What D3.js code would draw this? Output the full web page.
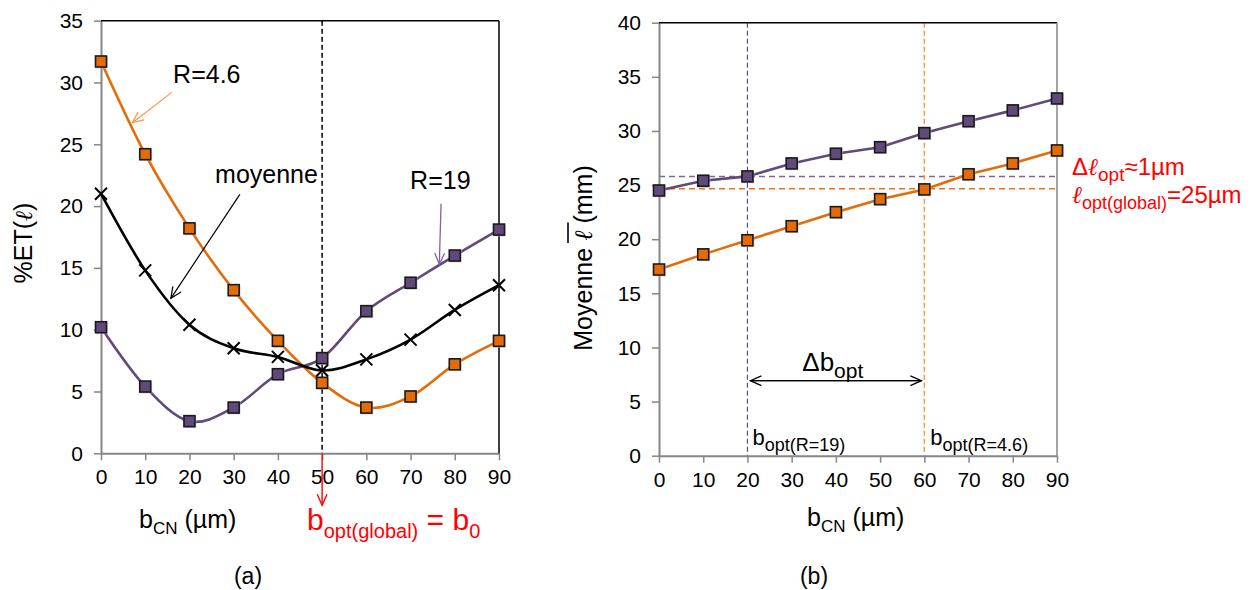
<!DOCTYPE html>
<html><head><meta charset="utf-8">
<script src="https://cdn.jsdelivr.net/npm/d3@7"></script>
<style>
body{margin:0;background:#fff}
text{font-family:"Liberation Sans",Arial,sans-serif}
</style>
</head><body>
<svg id="c" width="1254" height="590"></svg>
<script>
// ---------- data ----------
const bCN = [0, 10, 20, 30, 40, 50, 60, 70, 80, 90];
const etR46 = [31.7, 24.2, 18.2, 13.2, 9.1, 5.7, 3.7, 4.6, 7.2, 9.1];
const etR19 = [10.2, 5.4, 2.6, 3.7, 6.4, 7.7, 11.5, 13.8, 16.0, 18.1];
const etMoy = [21.0, 14.8, 10.4, 8.5, 7.8, 6.7, 7.6, 9.2, 11.6, 13.6];
const lenR46 = [17.2, 18.6, 19.9, 21.2, 22.5, 23.7, 24.6, 26.0, 27.0, 28.2];
const lenR19 = [24.5, 25.4, 25.8, 27.0, 27.9, 28.5, 29.8, 30.9, 31.9, 33.0];
const xTicks = [0, 10, 20, 30, 40, 50, 60, 70, 80, 90];
const yTicksA = [0, 5, 10, 15, 20, 25, 30, 35];
const yTicksB = [0, 5, 10, 15, 20, 25, 30, 35, 40];
const bOptGlobal = 50;
const bOptR19 = 20, bOptR46 = 60;
const lOptR19 = 25.8, lOptR46 = 24.65;

// ---------- style ----------
const ORANGE = "#E36C09", PURPLE = "#604A7B";
const ORANGE_L = "#F79646", PURPLE_L = "#8064A2";
const AXIS = "#868686", RED = "#FF0000";
const ELL = "font-family:'DejaVu Serif',serif;font-style:italic";
const svg = d3.select("#c");

function rich(sel, x, y, parts, fill, anchor) {
  const t = sel.append("text").attr("x", x).attr("y", y).attr("fill", fill || "#000")
    .attr("text-anchor", anchor || "start");
  let cur = 0;
  parts.forEach(p => {
    const off = p.sub || 0;
    const ts = t.append("tspan").attr("dy", off - cur).attr("font-size", p.size).text(p.t);
    if (p.style) ts.attr("style", p.style);
    cur = off;
  });
  return t;
}
function arrow(sel, x1, y1, x2, y2, color, w, head) {
  head = head || 12;
  sel.append("line").attr("x1", x1).attr("y1", y1).attr("x2", x2).attr("y2", y2)
    .attr("stroke", color).attr("stroke-width", w);
  const a = Math.atan2(y2 - y1, x2 - x1), s = 0.42;
  const p = [[x2 - head * Math.cos(a - s), y2 - head * Math.sin(a - s)], [x2, y2],
             [x2 - head * Math.cos(a + s), y2 - head * Math.sin(a + s)]];
  sel.append("path").attr("d", d3.line()(p)).attr("fill", "none")
    .attr("stroke", color).attr("stroke-width", w);
}
function squares(g, xs, ys, sx, sy, fill) {
  const d = xs.map((v, i) => [v, ys[i]]);
  g.selectAll(null).data(d).join("rect")
    .attr("x", p => sx(p[0]) - 5).attr("y", p => sy(p[1]) - 5)
    .attr("width", 12).attr("height", 12).attr("fill", "#bfbfbf").attr("opacity", 0.6);
  g.selectAll(null).data(d).join("rect")
    .attr("x", p => sx(p[0]) - 5.5).attr("y", p => sy(p[1]) - 5.5)
    .attr("width", 11).attr("height", 11).attr("fill", fill)
    .attr("stroke", "#1a1a1a").attr("stroke-width", 1.6);
}
function crosses(g, xs, ys, sx, sy) {
  g.selectAll(null).data(xs.map((d, i) => [d, ys[i]])).join("path")
    .attr("d", d => { const x = sx(d[0]), y = sy(d[1]), r = 6;
      return `M${x-r},${y-r}L${x+r},${y+r}M${x-r},${y+r}L${x+r},${y-r}`; })
    .attr("stroke", "#000").attr("stroke-width", 2).attr("fill", "none");
}
function axes(g, sx, sy, yt, W, H, rightColor) {
  const ax = g.append("g").attr("transform", `translate(0,${H})`)
    .call(d3.axisBottom(sx).tickValues(xTicks).tickSize(7).tickSizeOuter(0).tickPadding(9));
  const ay = g.append("g")
    .call(d3.axisLeft(sy).tickValues(yt).tickSize(7).tickSizeOuter(0).tickPadding(11));
  [ax, ay].forEach(a => {
    a.select(".domain").attr("stroke", AXIS).attr("stroke-width", 2);
    a.selectAll(".tick line").attr("stroke", AXIS).attr("stroke-width", 1.5);
    a.selectAll(".tick text").attr("font-size", 21).attr("fill", "#000")
      .attr("font-family", "Liberation Sans, Arial, sans-serif");
  });
  g.append("line").attr("x1", 0).attr("x2", W).attr("y1", 0).attr("y2", 0)
    .attr("stroke", "#000").attr("stroke-width", 1.5);
  g.append("line").attr("x1", W).attr("x2", W).attr("y1", 0).attr("y2", H)
    .attr("stroke", rightColor).attr("stroke-width", 1.5);
}

// ---------- chart (a) ----------
const A = {x: 101, y: 20.7, w: 398, h: 432.6};
const gA = svg.append("g").attr("transform", `translate(${A.x},${A.y})`);
const xA = d3.scaleLinear().domain([0, 90]).range([0, A.w]);
const yA = d3.scaleLinear().domain([0, 35]).range([A.h, 0]);

gA.append("line").attr("x1", xA(bOptGlobal)).attr("x2", xA(bOptGlobal))
  .attr("y1", 0).attr("y2", A.h).attr("stroke", "#000").attr("stroke-width", 1.5)
  .attr("stroke-dasharray", "5,3");
axes(gA, xA, yA, yTicksA, A.w, A.h, "#000");

const smooth = d3.line().curve(d3.curveCardinal.tension(0));
[[etR19, PURPLE], [etR46, ORANGE], [etMoy, "#000"]].forEach(([v, c]) => {
  gA.append("path").attr("d", smooth(bCN.map((d, i) => [xA(d), yA(v[i])])))
    .attr("fill", "none").attr("stroke", c).attr("stroke-width", 2.6);
});
squares(gA, bCN, etR19, xA, yA, PURPLE);
squares(gA, bCN, etR46, xA, yA, ORANGE);
crosses(gA, bCN, etMoy, xA, yA);

// annotations (a)
rich(gA, xA(16.3), yA(29.96), [{t: "R=4.6", size: 25}]);
arrow(gA, xA(16.0), yA(29.2), xA(7.1), yA(26.75), ORANGE_L, 1.2);
rich(gA, xA(25.8), yA(21.87), [{t: "moyenne", size: 25}]);
arrow(gA, xA(31.4), yA(20.95), xA(15.8), yA(12.54), "#000", 1.2);
rich(gA, xA(69.9), yA(21.4), [{t: "R=19", size: 25}]);
arrow(gA, xA(76.9), yA(20.2), xA(76.5), yA(15.3), PURPLE_L, 1.3);
arrow(gA, xA(bOptGlobal), yA(0), xA(bOptGlobal), yA(-4.2), RED, 1.4);
rich(gA, xA(46.6), yA(-6.2), [
  {t: "b", size: 30}, {t: "opt(global)", size: 20, sub: 8},
  {t: " = b", size: 30}, {t: "0", size: 20, sub: 8}], RED);

// axis titles (a)
rich(svg, 139, 528, [{t: "b", size: 25}, {t: "CN", size: 17, sub: 6}, {t: " (µm)", size: 25}]);
rich(svg.append("g").attr("transform", "translate(32,243) rotate(-90)"), 0, 0,
  [{t: "%ET(", size: 25}, {t: "ℓ", size: 24, style: ELL}, {t: ")", size: 25}], "#000", "middle");
svg.append("text").attr("x", 248).attr("y", 584).attr("text-anchor", "middle")
  .attr("font-size", 23).text("(a)");

// ---------- chart (b) ----------
const B = {x: 659, y: 22.7, w: 398, h: 433};
const gB = svg.append("g").attr("transform", `translate(${B.x},${B.y})`);
const xB = d3.scaleLinear().domain([0, 90]).range([0, B.w]);
const yB = d3.scaleLinear().domain([0, 40]).range([B.h, 0]);

gB.append("line").attr("x1", 0).attr("x2", B.w).attr("y1", yB(lOptR19)).attr("y2", yB(lOptR19))
  .attr("stroke", PURPLE_L).attr("stroke-width", 1.5).attr("stroke-dasharray", "6,4");
gB.append("line").attr("x1", 0).attr("x2", B.w).attr("y1", yB(lOptR46)).attr("y2", yB(lOptR46))
  .attr("stroke", "#F36F10").attr("stroke-width", 1.5).attr("stroke-dasharray", "6,4");
gB.append("line").attr("x1", xB(bOptR19)).attr("x2", xB(bOptR19)).attr("y1", 0).attr("y2", B.h)
  .attr("stroke", PURPLE).attr("stroke-width", 1.2).attr("stroke-dasharray", "5,3");
gB.append("line").attr("x1", xB(bOptR46)).attr("x2", xB(bOptR46)).attr("y1", 0).attr("y2", B.h)
  .attr("stroke", ORANGE_L).attr("stroke-width", 1.5).attr("stroke-dasharray", "5,3");
axes(gB, xB, yB, yTicksB, B.w, B.h, AXIS);

const lin = d3.line();
[[lenR19, PURPLE], [lenR46, ORANGE]].forEach(([v, c]) => {
  gB.append("path").attr("d", lin(bCN.map((d, i) => [xB(d), yB(v[i])])))
    .attr("fill", "none").attr("stroke", c).attr("stroke-width", 2.6);
});
squares(gB, bCN, lenR19, xB, yB, PURPLE);
squares(gB, bCN, lenR46, xB, yB, ORANGE);

// annotations (b)
const ya = yB(6.93);
arrow(gB, xB(bOptR19) + 3, ya, xB(bOptR46) - 3, ya, "#000", 1.3);
arrow(gB, xB(bOptR46) - 3, ya, xB(bOptR19) + 3, ya, "#000", 1.3);
rich(gB, xB(32.4), yB(7.8), [{t: "Δb", size: 26}, {t: "opt", size: 21, sub: 7}]);
rich(gB, xB(bOptR19) + 5, yB(0.95), [{t: "b", size: 22}, {t: "opt(R=19)", size: 18, sub: 6}]);
rich(gB, xB(bOptR46) + 6, yB(0.95), [{t: "b", size: 22}, {t: "opt(R=4.6)", size: 18, sub: 6}]);
rich(svg, 1072, 175, [{t: "Δ", size: 24}, {t: "ℓ", size: 24, style: ELL}, {t: "opt", size: 19, sub: 6}, {t: "≈1µm", size: 24}], RED);
rich(svg, 1072, 203, [{t: "ℓ", size: 24, style: ELL}, {t: "opt(global)", size: 18, sub: 6}, {t: "=25µm", size: 24}], RED);

// axis titles (b)
rich(svg, 807, 526, [{t: "b", size: 25}, {t: "CN", size: 17, sub: 6}, {t: " (µm)", size: 25}]);
const gYB = svg.append("g").attr("transform", "translate(592,258) rotate(-90)");
const tYB = rich(gYB, 0, 0,
  [{t: "Moyenne ", size: 25}, {t: "ℓ", size: 25, style: ELL}, {t: " (mm)", size: 25}], "#000", "middle");
// overline above the ℓ
const nd = tYB.node();
const i0 = "Moyenne ".length;
const s0 = nd.getStartPositionOfChar(i0).x, e0 = nd.getEndPositionOfChar(i0).x;
gYB.append("line").attr("x1", s0 - 2).attr("x2", e0 + 8).attr("y1", -24).attr("y2", -24)
  .attr("stroke", "#000").attr("stroke-width", 1.6);
svg.append("text").attr("x", 814).attr("y", 584).attr("text-anchor", "middle")
  .attr("font-size", 23).text("(b)");
</script>
</body></html>
